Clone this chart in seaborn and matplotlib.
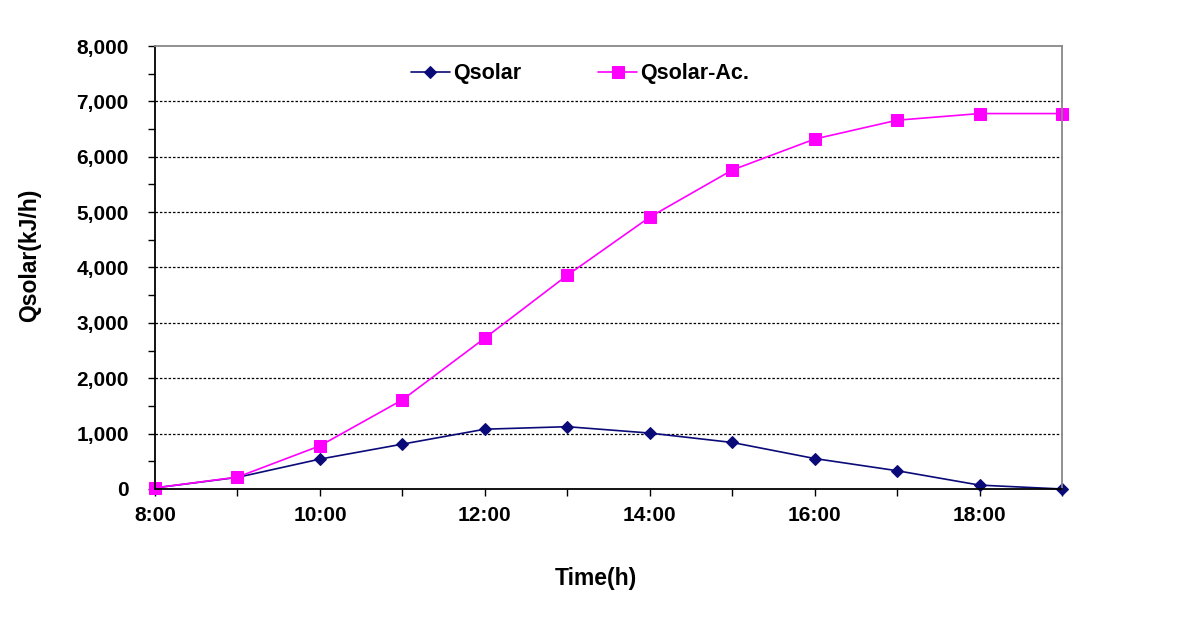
import matplotlib
matplotlib.use("Agg")
import matplotlib.pyplot as plt
import seaborn as sns
import pandas as pd
from matplotlib.ticker import MultipleLocator, FuncFormatter

hours = [8, 9, 10, 11, 12, 13, 14, 15, 16, 17, 18, 19]
qsolar = [20, 210, 540, 810, 1080, 1125, 1010, 840, 550, 330, 70, 0]
qsolar_ac = [20, 215, 780, 1610, 2725, 3860, 4910, 5760, 6320, 6660, 6780, 6780]
x_tick_labels = ["8:00", "10:00", "12:00", "14:00", "16:00", "18:00"]

sns.set_theme(style="white")
plt.rcParams['font.family'] = ['Liberation Sans', 'DejaVu Sans']
plt.rcParams['text.color'] = 'black'
plt.rcParams['axes.labelcolor'] = 'black'

df = pd.DataFrame({"Time": hours * 2,
                   "Q": qsolar + qsolar_ac,
                   "Series": ["Qsolar"] * len(hours) + ["Qsolar-Ac."] * len(hours)})

fig = plt.figure(figsize=(11.79, 6.2), dpi=100)
ax = fig.add_axes([0.1315, 0.2113, 0.7693, 0.7145])

sns.lineplot(data=df[df.Series == "Qsolar"], x="Time", y="Q", ax=ax, color="#0a0a78",
             marker="D", markersize=6.5, linewidth=1.2, markeredgecolor="#0a0a78",
             label="Qsolar", clip_on=False)
sns.lineplot(data=df[df.Series == "Qsolar-Ac."], x="Time", y="Q", ax=ax, color="#ff00ff",
             marker="s", markersize=8, linewidth=1.2, markeredgecolor="#ff00ff",
             label="Qsolar-Ac.", clip_on=False)

ax.set_xlim(8, 19)
ax.set_ylim(0, 8000)
ax.set_xticks([8, 10, 12, 14, 16, 18])
ax.set_xticklabels(x_tick_labels)
ax.xaxis.set_minor_locator(MultipleLocator(1))
ax.yaxis.set_major_locator(MultipleLocator(1000))
ax.yaxis.set_minor_locator(MultipleLocator(500))
ax.yaxis.set_major_formatter(FuncFormatter(lambda v, p: f"{int(v):,}"))

for yv in range(1000, 8000, 1000):
    ax.axhline(yv, color="black", linestyle=(0, (2, 1.5)), linewidth=0.9, zorder=0)

ax.tick_params(axis="both", which="both", direction="out", colors="black",
               labelsize=15, length=5, width=1, bottom=True, left=True,
               top=False, right=False)
ax.tick_params(axis="y", which="major", pad=14)
ax.tick_params(axis="x", which="major", pad=7)
for lab in ax.get_xticklabels() + ax.get_yticklabels():
    lab.set_fontweight("bold")

for s in ["left", "bottom"]:
    ax.spines[s].set_color("black")
    ax.spines[s].set_linewidth(1.3)
for s in ["top", "right"]:
    ax.spines[s].set_color("#888888")
    ax.spines[s].set_linewidth(1.3)

ax.set_xlabel("Time(h)", fontsize=16.5, fontweight="bold")
ax.set_ylabel("Qsolar(kJ/h)", fontsize=16.5, fontweight="bold")
ax.xaxis.set_label_coords(0.486, -0.175)
ax.yaxis.set_label_coords(-0.1257, 0.528)

leg = ax.legend(loc="center", bbox_to_anchor=(0.4686, 0.937), ncol=2, frameon=False,
                fontsize=15.5, columnspacing=3.6, handlelength=1.8, handletextpad=0.15)
for t in leg.get_texts():
    t.set_fontweight("bold")

fig.savefig("out.png", dpi=100, facecolor="white")
